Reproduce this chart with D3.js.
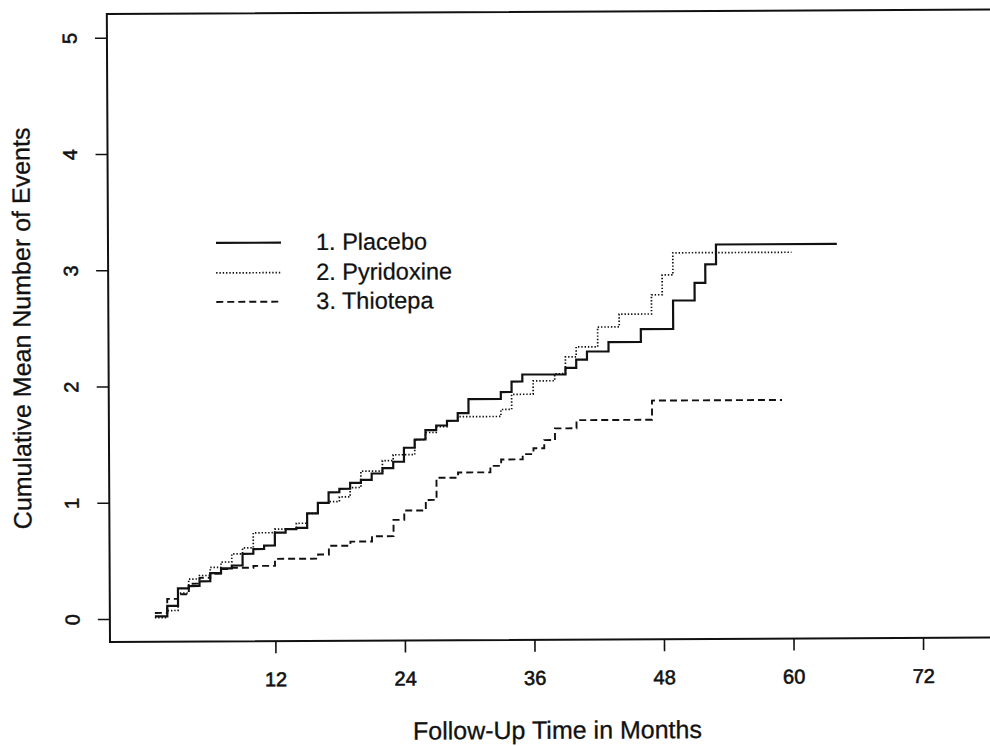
<!DOCTYPE html>
<html><head><meta charset="utf-8">
<script src="https://cdn.jsdelivr.net/npm/d3@7"></script>
<style>
body{margin:0;background:#fff}
svg{display:block}
text{font-family:"Liberation Sans",Arial,Helvetica,sans-serif;fill:#111}
</style>
</head><body>
<svg id="chart" width="990" height="746"></svg>
<script>
// ---- data ----
const xTicks = [12, 24, 36, 48, 60, 72];
const yTicks = [0, 1, 2, 3, 4, 5];
const legendLabels = ["1. Placebo", "2. Pyridoxine", "3. Thiotepa"];
const xTitle = "Follow-Up Time in Months";
const yTitle = "Cumulative Mean Number of Events";

const placeboT = [0.85,2,3,4,5,6,7,8,9,10,11,12,13,14,15,16,17,18,19,20,21,22,23,24,25,26,27,28,29,30,33,34,35,39,40,41,43,46,49,51,52,53];
const placeboV = [0.02,0.11,0.26,0.28,0.32,0.39,0.43,0.455,0.555,0.595,0.625,0.735,0.765,0.775,0.90,0.99,1.08,1.11,1.16,1.185,1.24,1.285,1.34,1.46,1.53,1.61,1.65,1.69,1.755,1.875,1.935,2.025,2.085,2.14,2.21,2.28,2.36,2.47,2.715,2.865,3.025,3.195];
const placeboEnd = 64.2;

const pyridoxineT = [0.85,2,3,4,5,6,7,8,9,10,12,14,15,16,17,18,19,20,22,23,25,26,27,28,29,33,34,36,38,39,40,42,44,47,48,49];
const pyridoxineV = [0.01,0.07,0.22,0.34,0.37,0.44,0.485,0.555,0.605,0.735,0.765,0.815,0.90,0.99,1.00,1.04,1.12,1.26,1.35,1.40,1.53,1.59,1.64,1.69,1.725,1.785,1.915,2.03,2.09,2.235,2.32,2.49,2.60,2.765,2.935,3.125];
const pyridoxineEnd = 60.0;

const thiotepaT = [0.85,2,3,4,5,6,7,8,10,12,16,17,19,21,23,24,26,27,29,32,33,35,36,37,38,40,47];
const thiotepaV = [0.05,0.17,0.21,0.30,0.35,0.385,0.425,0.435,0.45,0.51,0.545,0.62,0.655,0.70,0.84,0.92,1.01,1.20,1.245,1.30,1.355,1.40,1.45,1.52,1.62,1.69,1.855];
const thiotepaEnd = 59.05;

// ---- layout ----
const svg = d3.select("#chart");
const L = 110, R = 1004, T = 14, B = 642;
const x = d3.scaleLinear().domain([-3.32, 79.5]).range([L, R]);
const y = d3.scaleLinear().domain([-0.198, 5.204]).range([B, T]);

const g = svg.append("g").attr("transform", "rotate(-0.29," + L + "," + B + ")");

// frame
g.append("rect").attr("x", L).attr("y", T).attr("width", R - L).attr("height", B - T)
  .attr("fill", "none").attr("stroke", "#111").attr("stroke-width", 2);

// x axis
const xa = g.append("g").attr("transform", "translate(0," + B + ")")
  .call(d3.axisBottom(x).tickValues(xTicks).tickSize(12).tickFormat(d3.format("d")));
xa.select(".domain").remove();
xa.selectAll("line").attr("stroke", "#111").attr("stroke-width", 1.6);
xa.selectAll("text").attr("y", 45).attr("dy", 0).attr("font-size", 20)
  .attr("fill", "#111").attr("stroke", "#111").attr("stroke-width", 0.6)
  .style("font-family", "'Liberation Sans',Arial,sans-serif");

// y axis
const ya = g.append("g").attr("transform", "translate(" + L + ",0)")
  .call(d3.axisLeft(y).tickValues(yTicks).tickSize(12).tickFormat(d3.format("d")));
ya.select(".domain").remove();
ya.selectAll("line").attr("stroke", "#111").attr("stroke-width", 1.6);
ya.selectAll("text").attr("x", 0).attr("dy", 0).attr("text-anchor", "middle")
  .attr("transform", "translate(-30.5,0) rotate(-90)")
  .attr("font-size", 20).attr("fill", "#111").attr("stroke", "#111").attr("stroke-width", 0.6)
  .style("font-family", "'Liberation Sans',Arial,sans-serif");

// titles
g.append("text").attr("x", (L + R) / 2).attr("y", 741).attr("text-anchor", "middle")
  .attr("font-size", 25).attr("stroke", "#111").attr("stroke-width", 0.3).text(xTitle);
g.append("text").attr("transform", "translate(32," + ((T + B) / 2) + ") rotate(-90)")
  .attr("text-anchor", "middle").attr("font-size", 25)
  .attr("stroke", "#111").attr("stroke-width", 0.3).text(yTitle);

// series
const styles = [
  {dash: null, w: 2.2},
  {dash: "1.4,1.9", w: 1.7},
  {dash: "7,4", w: 1.9}
];
function pts(ts, vs, end) {
  const p = ts.map((t, i) => [t, vs[i]]);
  p.push([end, vs[vs.length - 1]]);
  return p;
}
const series = [
  pts(placeboT, placeboV, placeboEnd),
  pts(pyridoxineT, pyridoxineV, pyridoxineEnd),
  pts(thiotepaT, thiotepaV, thiotepaEnd)
];
const line = d3.line().x(d => x(d[0])).y(d => y(d[1])).curve(d3.curveStepAfter);
series.forEach((s, i) => {
  g.append("path").datum(s).attr("d", line).attr("fill", "none")
    .attr("stroke", "#111").attr("stroke-width", styles[i].w)
    .attr("stroke-dasharray", styles[i].dash);
});

// legend
const lg = g.append("g");
const legY = [243.5, 273.5, 302.5];
legendLabels.forEach((lab, i) => {
  lg.append("line").attr("x1", 218).attr("x2", 283).attr("y1", legY[i]).attr("y2", legY[i])
    .attr("stroke", "#111").attr("stroke-width", styles[i].w)
    .attr("stroke-dasharray", styles[i].dash);
  lg.append("text").attr("x", 318).attr("y", legY[i] + 7.5).attr("font-size", 23.5)
    .attr("stroke", "#111").attr("stroke-width", 0.25).text(lab);
});
</script>
</body></html>
